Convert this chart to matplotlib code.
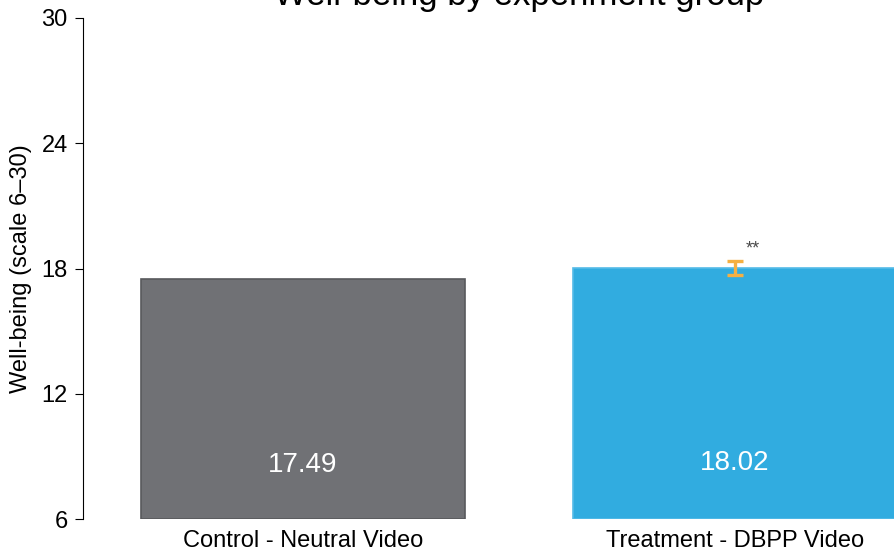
import matplotlib
matplotlib.use("Agg")
import matplotlib.pyplot as plt

plt.rcParams['font.family'] = ['Liberation Sans', 'DejaVu Sans']

categories = ["Control - Neutral Video", "Treatment - DBPP Video"]
means = [17.49, 18.02]
value_labels = ["17.49", "18.02"]
err_low = [17.69]
err_high = [18.37]
y_ticks = [6, 12, 18, 24, 30]
title = "Well-being by experiment group"
ylabel = "Well-being (scale 6\u201330)"

fill_colors = ["#707175", "#31ACE0"]
edge_colors = ["#58595c", "#55bbe8"]

fig = plt.figure(figsize=(8.94, 5.49), dpi=100)
ax = fig.add_axes([83/894, 1 - 519/549, 1 - 83/894, (519 - 18)/549])

x = list(range(len(categories)))
ax.bar(x, [m - 6 for m in means], bottom=6, width=0.75,
       color=fill_colors, edgecolor=edge_colors, linewidth=1.2, zorder=2)

for xi, m, lab in zip(x, means, value_labels):
    ax.text(xi, 6 + 0.225 * (m - 6), lab, ha='center', va='center',
            color='white', fontsize=20, zorder=3)

# error bar on treatment
t_mean = means[1]
ax.errorbar([1], [t_mean], yerr=[[t_mean - err_low[0]], [err_high[0] - t_mean]],
            fmt='none', ecolor='#F5B042', elinewidth=2.4, capsize=5.5,
            capthick=2.4, zorder=4)
ax.text(1.042, 18.95, "**", ha='center', va='center', color='#4a4a4a',
        fontsize=13, zorder=4)

ax.set_xlim(-0.509, 1.368)
ax.set_ylim(6, 30)
ax.set_yticks(y_ticks)
ax.set_yticklabels([str(t) for t in y_ticks], fontsize=17)
ax.set_xticks(x)
ax.set_xticklabels(categories, fontsize=17)
ax.tick_params(axis='x', length=0, pad=8)
ax.tick_params(axis='y', length=6, width=0.8, pad=5, direction='out')
for s in ['top', 'right', 'bottom']:
    ax.spines[s].set_visible(False)
ax.spines['left'].set_linewidth(0.8)
ax.set_ylabel(ylabel, fontsize=17, labelpad=7)

fig.text(519/894, 1 - 5/549, title, ha='center', va='baseline', fontsize=25)

fig.savefig("out.png", dpi=100)
